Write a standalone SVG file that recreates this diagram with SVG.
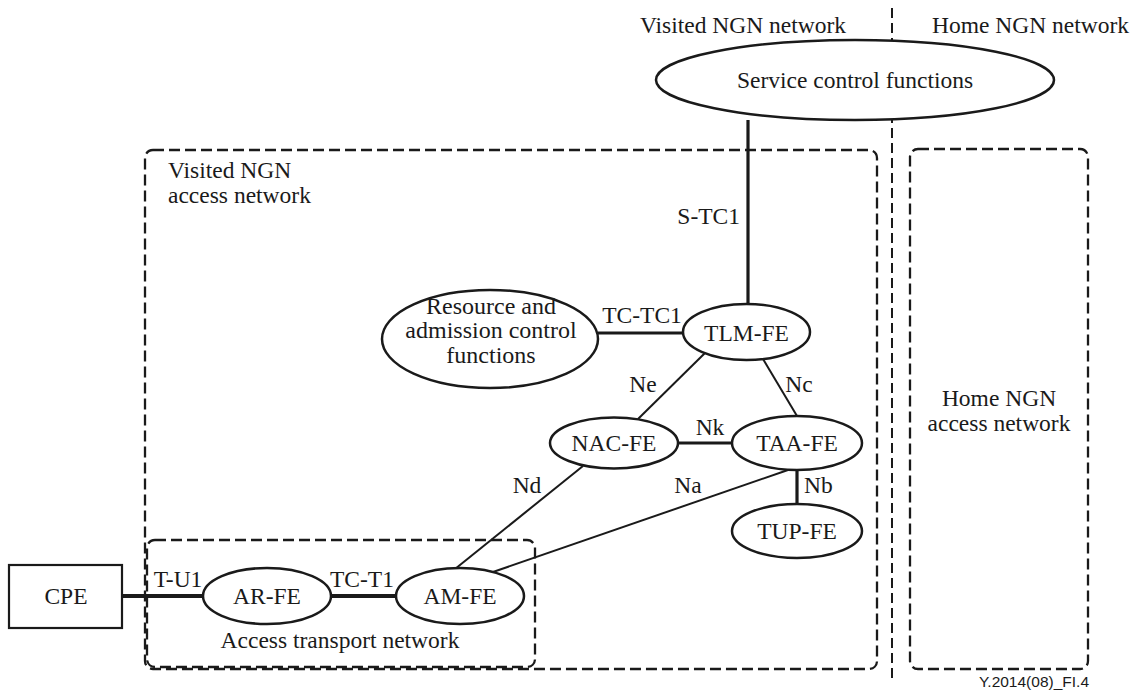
<svg xmlns="http://www.w3.org/2000/svg" width="1140" height="695" viewBox="0 0 1140 695">
  <style>
    text { font-family: "Liberation Serif", "Times New Roman", serif; font-size: 23.5px; fill: #1a1a1a; }
    .c { text-anchor: middle; }
    .e { text-anchor: end; }
    .node { fill: #fff; stroke: #1a1a1a; stroke-width: 2.5; }
    .zone { fill: none; stroke: #1a1a1a; stroke-width: 2.3; stroke-dasharray: 11 5; }
    .divider { fill: none; stroke: #1a1a1a; stroke-width: 2; stroke-dasharray: 10 5; }
    .thick { stroke: #1a1a1a; stroke-width: 3.2; fill: none; }
    .bold { stroke: #1a1a1a; stroke-width: 4; fill: none; }
    .thin { stroke: #1a1a1a; stroke-width: 2; fill: none; }
    .ref { font-family: "Liberation Sans", Arial, sans-serif; font-size: 15.5px; }
  </style>

  <!-- network domains -->
  <g id="visited-access-network">
    <rect class="zone" x="145" y="150" width="732" height="519" rx="8"/>
    <text x="168" y="178">Visited NGN</text>
    <text x="168" y="203">access network</text>
  </g>
  <g id="home-access-network">
    <rect class="zone" x="910" y="149" width="178" height="520" rx="8"/>
    <text class="c" x="999" y="406">Home NGN</text>
    <text class="c" x="999" y="431">access network</text>
  </g>
  <g id="access-transport-network">
    <rect class="zone" x="147" y="540" width="388" height="127" rx="8"/>
    <text class="c" x="340" y="648">Access transport network</text>
  </g>

  <!-- visited / home boundary -->
  <g id="boundary">
    <line class="divider" x1="892" y1="8" x2="892" y2="683"/>
    <text class="c" x="743" y="33">Visited NGN network</text>
    <text x="932" y="33">Home NGN network</text>
  </g>

  <!-- reference points -->
  <g id="connectors">
    <line class="thick" x1="748" y1="120" x2="748" y2="305"/>
    <text class="e" x="740" y="224">S-TC1</text>

    <line class="thick" x1="598" y1="333" x2="683" y2="333"/>
    <text class="c" x="642" y="323">TC-TC1</text>

    <line class="thin" x1="705" y1="353" x2="638" y2="419"/>
    <text class="c" x="643" y="392">Ne</text>

    <line class="thin" x1="763" y1="359" x2="797" y2="416"/>
    <text class="c" x="799" y="392">Nc</text>

    <line class="thick" x1="678" y1="443" x2="732" y2="443"/>
    <text class="c" x="710" y="435">Nk</text>

    <line class="thin" x1="583" y1="466" x2="455" y2="569"/>
    <text class="c" x="527" y="493">Nd</text>

    <line class="thin" x1="788" y1="470" x2="493" y2="572"/>
    <text class="c" x="688" y="493">Na</text>

    <line class="thick" x1="797" y1="470" x2="797" y2="504"/>
    <text x="804" y="493">Nb</text>

    <line class="bold" x1="122" y1="596" x2="203" y2="596"/>
    <text class="c" x="178" y="587">T-U1</text>

    <line class="bold" x1="331" y1="596" x2="396" y2="596"/>
    <text class="c" x="362" y="587">TC-T1</text>
  </g>

  <!-- functional entities -->
  <g id="service-control-functions">
    <ellipse class="node" cx="855" cy="80" rx="199" ry="40"/>
    <text class="c" x="855" y="88">Service control functions</text>
  </g>
  <g id="racf">
    <ellipse class="node" cx="490" cy="339" rx="108" ry="49"/>
    <text class="c" x="491" y="314" style="font-size:24px">Resource and</text>
    <text class="c" x="491" y="338" style="font-size:24px">admission control</text>
    <text class="c" x="491" y="363" style="font-size:24px">functions</text>
  </g>
  <g id="tlm-fe">
    <ellipse class="node" cx="746.5" cy="332" rx="63.5" ry="28"/>
    <text class="c" x="746.5" y="341">TLM-FE</text>
  </g>
  <g id="nac-fe">
    <ellipse class="node" cx="614" cy="443" rx="64" ry="25.5"/>
    <text class="c" x="614" y="451">NAC-FE</text>
  </g>
  <g id="taa-fe">
    <ellipse class="node" cx="797" cy="443" rx="65" ry="27"/>
    <text class="c" x="797" y="451">TAA-FE</text>
  </g>
  <g id="tup-fe">
    <ellipse class="node" cx="797" cy="531" rx="65" ry="27"/>
    <text class="c" x="797" y="539">TUP-FE</text>
  </g>
  <g id="cpe">
    <rect class="node" x="9" y="565" width="113" height="63" style="stroke-width:2.2"/>
    <text class="c" x="66" y="604">CPE</text>
  </g>
  <g id="ar-fe">
    <ellipse class="node" cx="267" cy="596" rx="64" ry="28"/>
    <text class="c" x="267" y="604">AR-FE</text>
  </g>
  <g id="am-fe">
    <ellipse class="node" cx="460" cy="596" rx="64" ry="28"/>
    <text class="c" x="460" y="604">AM-FE</text>
  </g>

  <text class="ref e" x="1089" y="687">Y.2014(08)_FI.4</text>
</svg>
